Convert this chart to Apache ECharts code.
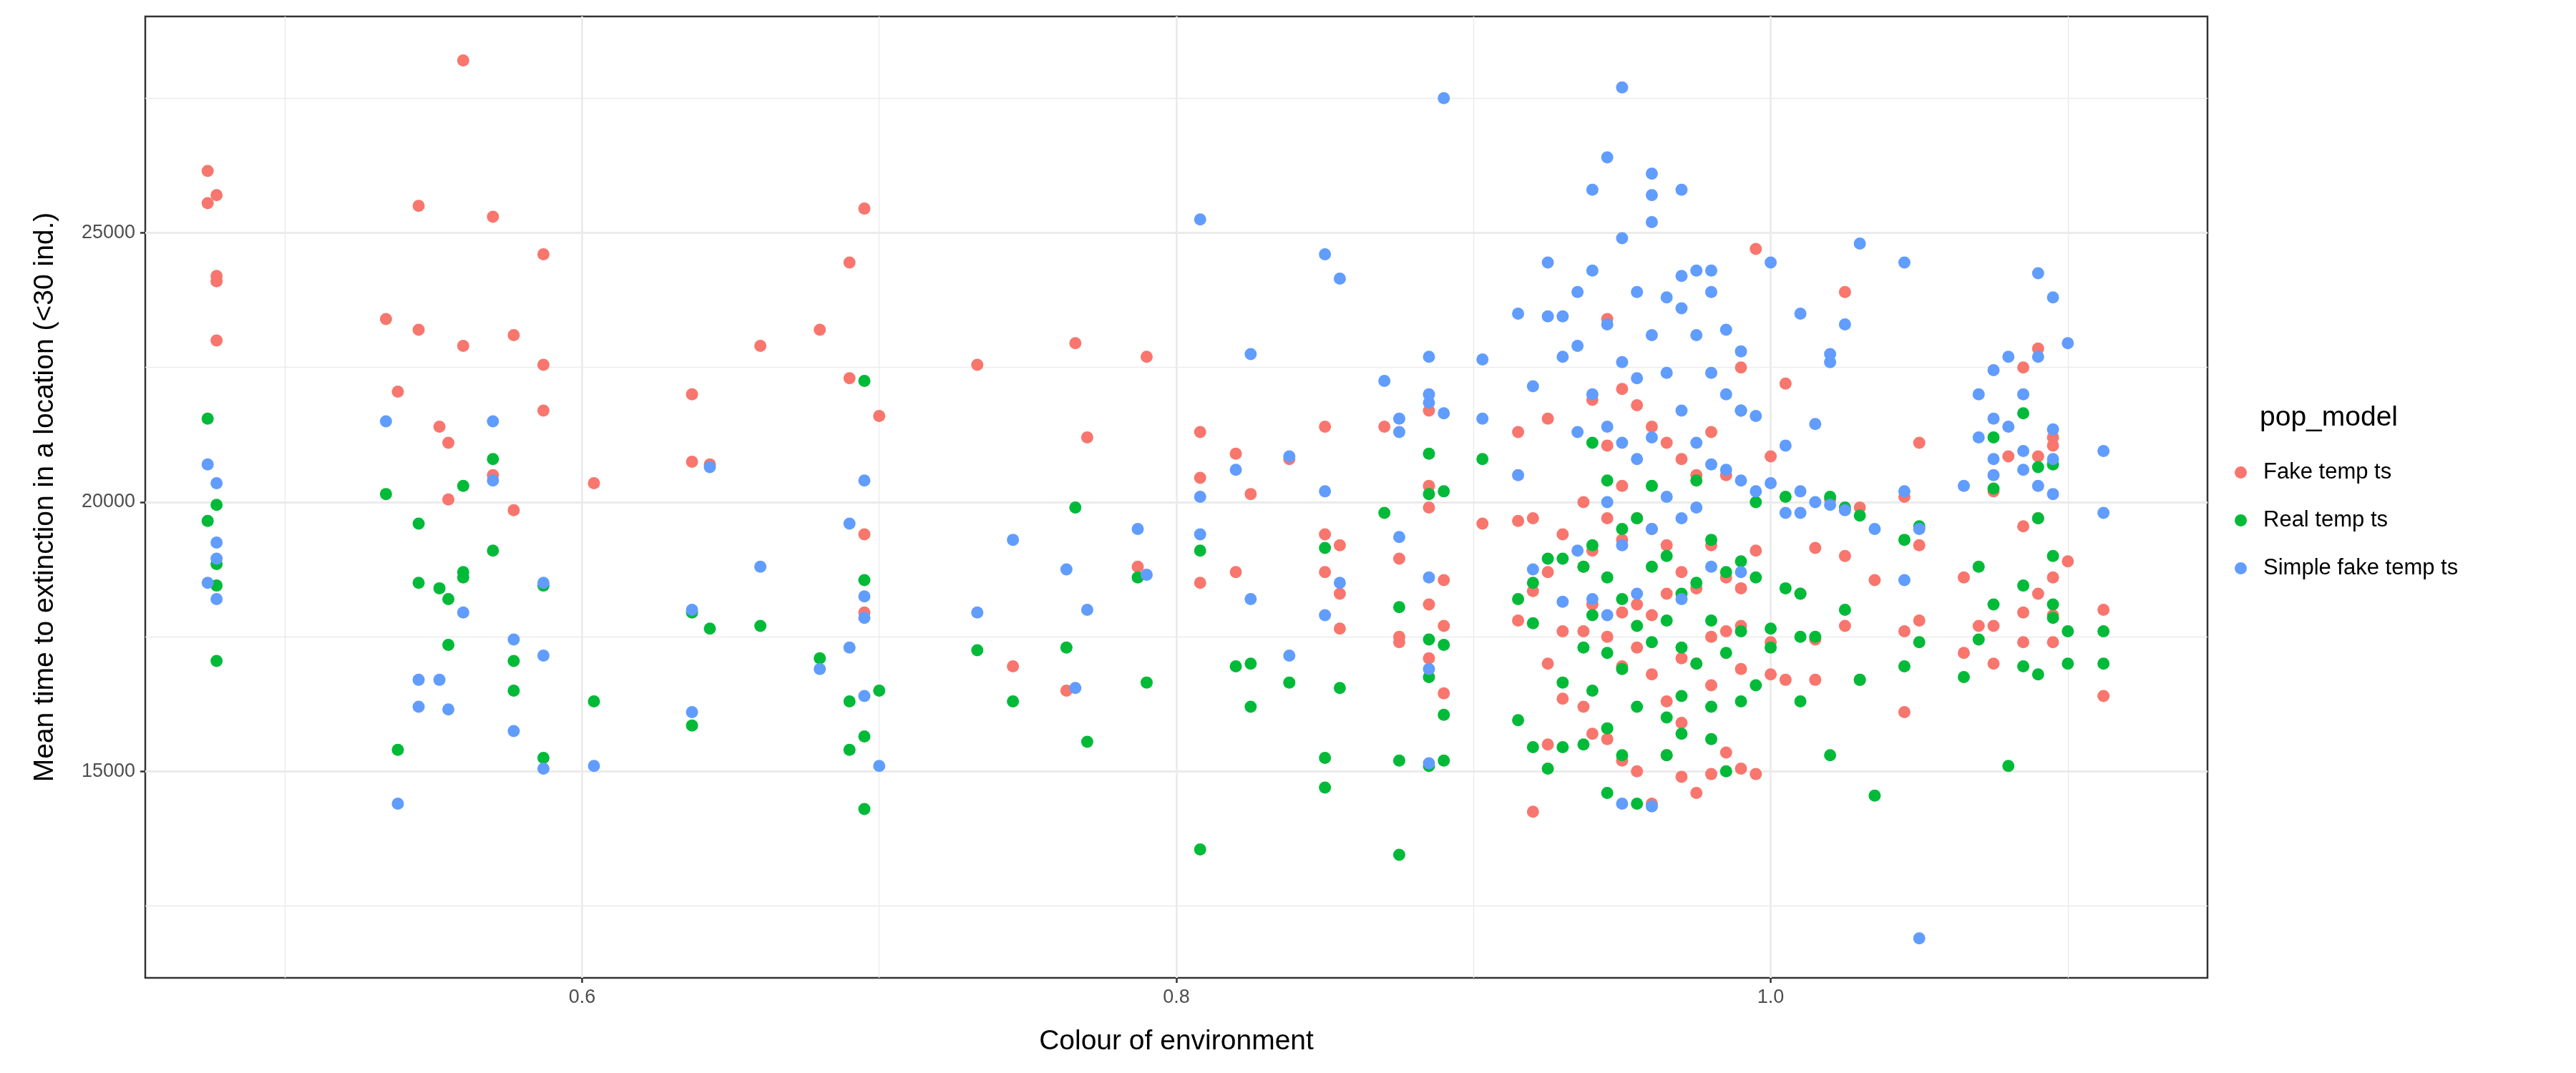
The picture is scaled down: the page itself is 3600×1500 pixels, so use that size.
<!DOCTYPE html>
<html lang="en">
<head>
<meta charset="UTF-8">
<title>Extinction time vs colour of environment</title>
<script src="https://cdn.jsdelivr.net/npm/echarts@6/dist/echarts.min.js"></script>
<style>
  html, body { margin: 0; padding: 0; background: #fff; }
  #main { width: 3600px; height: 1500px; }
</style>
</head>
<body>
<div id="main"></div>
<script>
// each entry: [colour of environment, [mean times ...]]
var fakeCols = [
  [0.474, [26150, 25550]], [0.477, [25700, 24200, 24100, 23000]],
  [0.534, [23400]], [0.538, [22050]], [0.545, [25500, 23200]], [0.552, [21400]],
  [0.555, [21100, 20050]], [0.56, [28200, 22900]], [0.57, [25300, 20500]],
  [0.577, [23100, 19850]], [0.587, [24600, 22550, 21700]], [0.604, [20350]],
  [0.637, [22000, 20750]], [0.643, [20700]], [0.66, [22900]], [0.68, [23200]],
  [0.69, [24450, 22300]], [0.695, [25450, 19400, 17950]], [0.7, [21600]],
  [0.733, [22550]], [0.745, [16950]], [0.763, [16500]], [0.766, [22950]],
  [0.77, [21200]], [0.787, [18800]], [0.79, [22700]], [0.808, [21300, 20450, 18500]],
  [0.82, [20900, 18700]], [0.825, [20150]], [0.838, [20800]], [0.85, [21400, 19400, 18700]],
  [0.855, [19200, 18300, 17650]], [0.87, [21400]], [0.875, [18950, 17500, 17400]],
  [0.885, [21700, 20300, 19900, 18100, 17100]], [0.89, [18550, 17700, 16450]],
  [0.903, [19600]], [0.915, [21300, 19650, 17800]], [0.92, [19700, 18350, 14250]],
  [0.925, [21550, 18700, 17000, 15500]], [0.93, [19400, 17600, 16350]],
  [0.937, [20000, 18800, 17600, 16200]], [0.94, [21900, 19100, 18100, 15700]],
  [0.945, [23400, 21050, 19700, 17500, 15600]], [0.95, [22100, 20300, 19300, 17950, 16950, 15200]],
  [0.955, [21800, 19700, 18100, 17300, 15000]], [0.96, [21400, 19500, 17900, 16800, 14400]],
  [0.965, [21100, 19200, 18300, 16300, 15300]], [0.97, [20800, 18700, 17100, 15900, 14900]],
  [0.975, [20500, 18400, 17000, 14600]], [0.98, [21300, 19200, 17500, 16600, 14950]],
  [0.985, [20500, 18600, 17600, 15350]], [0.99, [22500, 18400, 17700, 16900, 15050]],
  [0.995, [24700, 19100, 14950]], [1.0, [20850, 17400, 16800]], [1.005, [22200, 16700]],
  [1.01, [18300]], [1.015, [19150, 17450, 16700]], [1.02, [20050]],
  [1.025, [23900, 19000, 17700]], [1.03, [19900, 16700]], [1.035, [18550]],
  [1.045, [20100, 17600, 16100]], [1.05, [21100, 19200, 17800]], [1.065, [18600, 17200]],
  [1.07, [17700]], [1.075, [20200, 17700, 17000]], [1.08, [20850]],
  [1.085, [22500, 19550, 17950, 17400]], [1.09, [22850, 20850, 19700, 18300]],
  [1.095, [21200, 21050, 18600, 17900, 17400]], [1.1, [18900]], [1.112, [18000, 16400]]
];
var realCols = [
  [0.474, [21550, 19650]], [0.477, [19950, 18850, 18450, 17050]],
  [0.534, [20150]], [0.538, [15400]], [0.545, [19600, 18500]], [0.552, [18400]],
  [0.555, [18200, 17350]], [0.56, [20300, 18700, 18600]], [0.57, [20800, 19100]],
  [0.577, [17050, 16500]], [0.587, [18450, 15250]], [0.604, [16300]],
  [0.637, [17950, 15850]], [0.643, [17650]], [0.66, [17700]], [0.68, [17100]],
  [0.69, [16300, 15400]], [0.695, [22250, 18550, 15650, 14300]], [0.7, [16500]],
  [0.733, [17250]], [0.745, [16300]], [0.763, [17300]], [0.766, [19900]],
  [0.77, [15550]], [0.787, [18600]], [0.79, [16650]], [0.808, [19100, 13550]],
  [0.82, [16950]], [0.825, [17000, 16200]], [0.838, [16650]], [0.85, [19150, 15250, 14700]],
  [0.855, [16550]], [0.87, [19800]], [0.875, [18050, 15200, 13450]],
  [0.885, [20900, 20150, 17450, 16750, 15100]], [0.89, [20200, 17350, 16050, 15200]],
  [0.903, [20800]], [0.915, [18200, 15950]], [0.92, [18500, 17750, 15450]],
  [0.925, [18950, 15050]], [0.93, [18950, 16650, 15450]],
  [0.937, [18800, 17300, 15500]], [0.94, [21100, 19200, 17900, 16500]],
  [0.945, [20400, 18600, 17200, 15800, 14600]], [0.95, [19500, 18200, 16900, 15300]],
  [0.955, [19700, 17700, 16200, 14400]], [0.96, [20300, 18800, 17400]],
  [0.965, [19000, 17800, 16000, 15300]], [0.97, [18300, 17300, 16400, 15700]],
  [0.975, [20400, 18500, 17000]], [0.98, [19300, 17800, 16200, 15600]],
  [0.985, [18700, 17200, 15000]], [0.99, [21700, 18900, 17600, 16300]],
  [0.995, [20000, 18600, 16600]], [1.0, [17650, 17300]], [1.005, [20100, 18400]],
  [1.01, [18300, 17500, 16300]], [1.015, [17500]], [1.02, [20100, 15300]],
  [1.025, [19900, 18000]], [1.03, [19750, 16700]], [1.035, [14550]],
  [1.045, [19300, 16950]], [1.05, [19550, 17400]], [1.065, [16750]],
  [1.07, [18800, 17450]], [1.075, [21200, 20250, 18100]], [1.08, [15100]],
  [1.085, [21650, 18450, 16950]], [1.09, [20650, 19700, 16800]],
  [1.095, [20700, 19000, 18100, 17850]], [1.1, [17600, 17000]], [1.112, [17600, 17000]]
];
var simpleCols = [
  [0.474, [20700, 18500]], [0.477, [20350, 19250, 18950, 18200]],
  [0.534, [21500]], [0.538, [14400]], [0.545, [16700, 16200]], [0.552, [16700]],
  [0.555, [16150]], [0.56, [17950]], [0.57, [21500, 20400]],
  [0.577, [17450, 15750]], [0.587, [18500, 17150, 15050]], [0.604, [15100]],
  [0.637, [18000, 16100]], [0.643, [20650]], [0.66, [18800]], [0.68, [16900]],
  [0.69, [19600, 17300]], [0.695, [20400, 18250, 17850, 16400]], [0.7, [15100]],
  [0.733, [17950]], [0.745, [19300]], [0.763, [18750]], [0.766, [16550]],
  [0.77, [18000]], [0.787, [19500]], [0.79, [18650]], [0.808, [25250, 20100, 19400]],
  [0.82, [20600]], [0.825, [22750, 18200]], [0.838, [20850, 17150]], [0.85, [24600, 20200, 17900]],
  [0.855, [24150, 18500]], [0.87, [22250]], [0.875, [21550, 21300, 19350]],
  [0.885, [22700, 22000, 21850, 18600, 16900, 15150]], [0.89, [27500, 21650]],
  [0.903, [22650, 21550]], [0.915, [23500, 20500]], [0.92, [22150, 18750]],
  [0.925, [24450, 23450]], [0.93, [23450, 22700, 18150]],
  [0.935, [23900, 22900, 21300, 19100]], [0.94, [25800, 24300, 22000, 18200]],
  [0.945, [26400, 23300, 21400, 20000, 17900]], [0.95, [27700, 24900, 22600, 21100, 19200, 14400]],
  [0.955, [23900, 22300, 20800, 18300]], [0.96, [26100, 25700, 25200, 23100, 21200, 19500, 14350]],
  [0.965, [23800, 22400, 20100]], [0.97, [25800, 24200, 23600, 21700, 19700, 18200]],
  [0.975, [24300, 23100, 21100, 19900]], [0.98, [24300, 23900, 22400, 20700, 18800]],
  [0.985, [23200, 22000, 20600]], [0.99, [22800, 21700, 20400, 18700]],
  [0.995, [21600, 20200]], [1.0, [24450, 20350]], [1.005, [21050, 19800]],
  [1.01, [23500, 20200, 19800]], [1.015, [21450, 20000]], [1.02, [22600, 22750, 19950]],
  [1.025, [23300, 19850]], [1.03, [24800]], [1.035, [19500]],
  [1.045, [24450, 20200, 18550]], [1.05, [19500, 11900]], [1.065, [20300]],
  [1.07, [22000, 21200]], [1.075, [22450, 21550, 20800, 20500]], [1.08, [22700, 21400]],
  [1.085, [22000, 20950, 20600]], [1.09, [24250, 22700, 20300]],
  [1.095, [23800, 20150, 20800, 21350]], [1.1, [22950]], [1.112, [20950, 19800]]
];
var seriesNames = ['Fake temp ts', 'Real temp ts', 'Simple fake temp ts'];
var seriesColors = ['#F8766D', '#00BA38', '#619CFF'];
var xMajor = [0.6, 0.8, 1.0];
var xMinor = [0.5, 0.7, 0.9, 1.1];
var yMajor = [15000, 20000, 25000];
var yMinor = [12500, 17500, 22500, 27500];

function flatten(cols) {
  var out = [];
  cols.forEach(function (c) {
    c[1].forEach(function (y) { out.push([c[0], y]); });
  });
  return out;
}

var xRange = { min: 0.453, max: 1.147 };
var yRange = { min: 11166, max: 29018 };
var labelStyle = { fontFamily: 'Liberation Sans', fontSize: 27, color: '#4D4D4D' };

function axisPair(isX) {
  var major = isX ? xMajor : yMajor;
  var minor = isX ? xMinor : yMinor;
  var r = isX ? xRange : yRange;
  var pos = isX ? 'bottom' : 'left';
  var main = {
    type: 'value', min: r.min, max: r.max, position: pos,
    axisLine: { show: false },
    axisTick: { show: true, customValues: major, length: 7, lineStyle: { color: '#333', width: 2.5 } },
    axisLabel: Object.assign({ customValues: major, margin: 14,
      formatter: function (v) { return isX ? v.toFixed(1) : String(v); } }, labelStyle),
    splitLine: { show: true, lineStyle: { color: '#EBEBEB', width: 2.8 } },
    nameLocation: 'middle',
    nameGap: isX ? 70 : 120,
    name: isX ? 'Colour of environment' : 'Mean time to extinction in a location (<30 ind.)',
    nameTextStyle: { fontFamily: 'Liberation Sans', fontSize: 39, color: '#000' }
  };
  var sub = {
    type: 'value', min: r.min, max: r.max, position: pos,
    axisLine: { show: false }, axisLabel: { show: false },
    axisTick: { show: false, customValues: minor },
    splitLine: { show: true, lineStyle: { color: '#EBEBEB', width: 1.4 } }
  };
  return [sub, main];
}

var chart = echarts.init(document.getElementById('main'));
var series = [fakeCols, realCols, simpleCols].map(function (cols, i) {
  return {
    name: seriesNames[i], type: 'scatter', xAxisIndex: 1, yAxisIndex: 1,
    data: flatten(cols), symbolSize: 17,
    itemStyle: { color: seriesColors[i], opacity: 1 }
  };
});
series.push({
  type: 'scatter', xAxisIndex: 0, yAxisIndex: 0, data: [], silent: true
});

chart.setOption({
  backgroundColor: '#fff',
  animation: false,
  grid: { left: 203, top: 23, right: 515, bottom: 133, show: true,
          borderColor: '#333', borderWidth: 2.5, backgroundColor: 'transparent' },
  xAxis: axisPair(true),
  yAxis: axisPair(false),
  legend: {
    orient: 'vertical', left: 3118, top: 640, itemGap: 36,
    icon: 'circle', itemWidth: 17, itemHeight: 17,
    data: seriesNames,
    textStyle: { fontFamily: 'Liberation Sans', fontSize: 31, color: '#000', padding: [0, 0, 0, 18] }
  },
  graphic: [{
    type: 'text', left: 3158, top: 565,
    style: { text: 'pop_model', font: '39px "Liberation Sans"', fill: '#000' }
  }],
  series: series
});
</script>
</body>
</html>
